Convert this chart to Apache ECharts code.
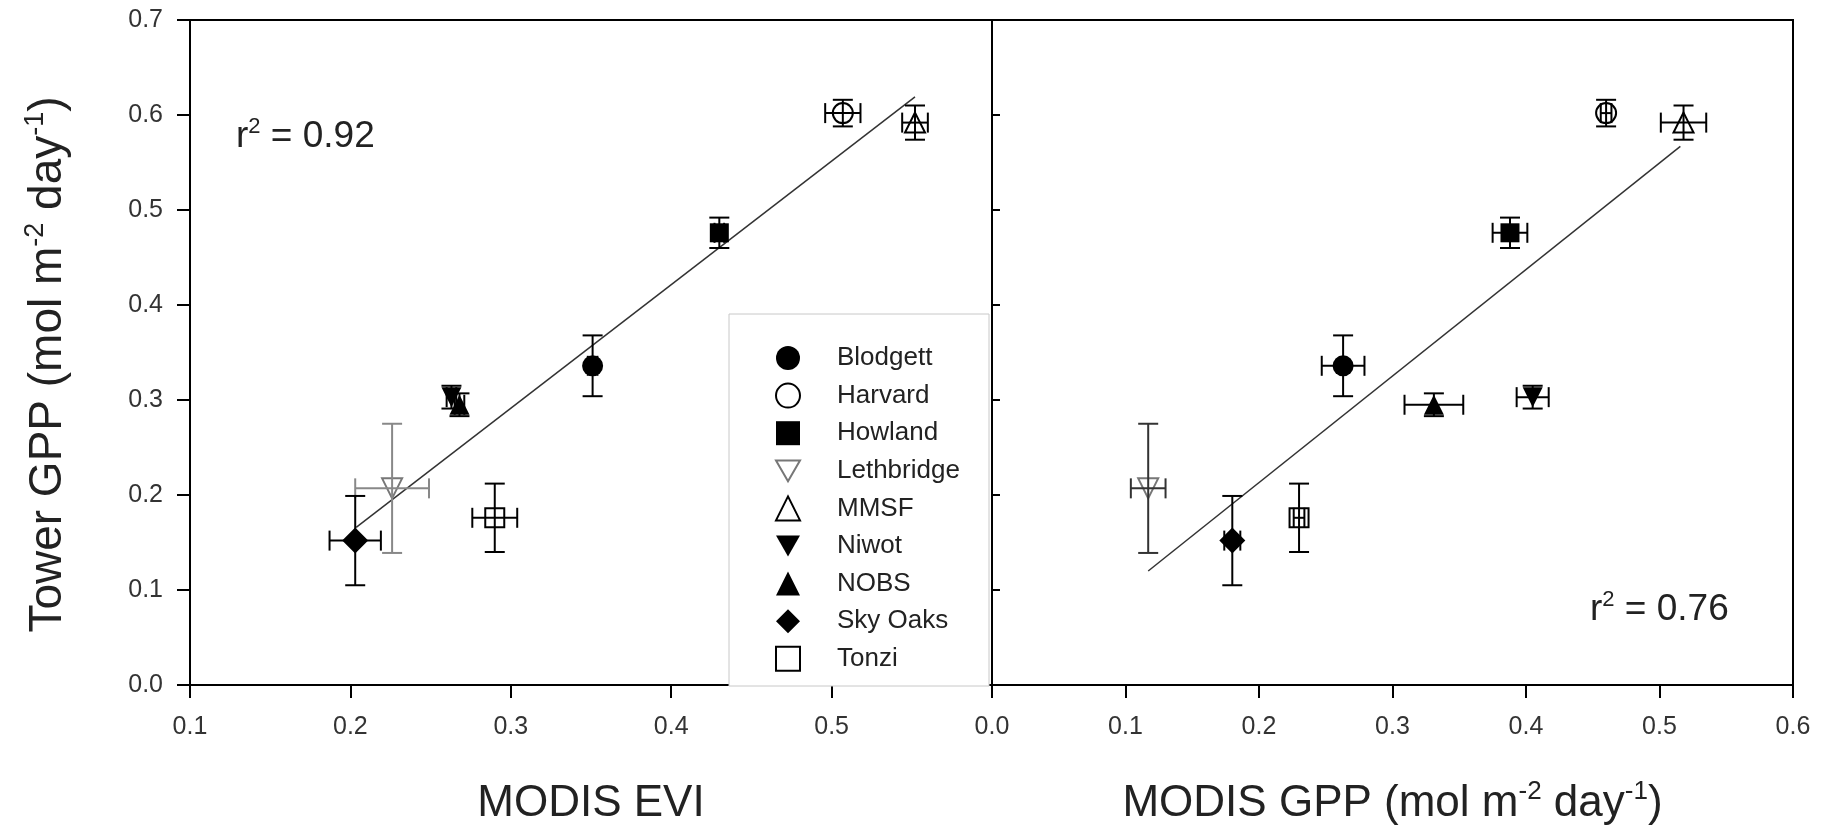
<!DOCTYPE html>
<html>
<head>
<meta charset="utf-8">
<title>Tower GPP vs MODIS EVI / MODIS GPP</title>
<script src="https://cdn.jsdelivr.net/npm/echarts@6.0.0/dist/echarts.min.js"></script>
<style>
  html, body { margin: 0; padding: 0; background: #fff; }
  #chart { width: 1831px; height: 835px; }
</style>
</head>
<body>
<div id="chart"></div>
<script>
// site values
var sites = ['Blodgett', 'Harvard', 'Howland', 'Lethbridge', 'MMSF', 'Niwot', 'NOBS', 'Sky Oaks', 'Tonzi'];
var towerGpp    = [0.336, 0.602, 0.476, 0.207, 0.592, 0.303, 0.295, 0.152, 0.176];
var towerGppErr = [0.032, 0.014, 0.016, 0.068, 0.018, 0.012, 0.012, 0.047, 0.036];
var modisEvi    = [0.351, 0.507, 0.430, 0.226, 0.552, 0.263, 0.268, 0.203, 0.290];
var modisEviErr = [0.003, 0.011, 0.003, 0.023, 0.008, 0.003, 0.003, 0.016, 0.014];
var modisGpp    = [0.263, 0.460, 0.388, 0.117, 0.518, 0.405, 0.331, 0.180, 0.230];
var modisGppErr = [0.016, 0.004, 0.013, 0.013, 0.017, 0.012, 0.022, 0.006, 0.004];

// regression line end points
var eviFit = [[0.2036, 0.166], [0.552, 0.619]];
var gppFit = [[0.117, 0.120], [0.5156, 0.567]];

var yTicks = [0, 0.7, 0.1];   // min, max, step

// marker styles per site
var siteSymbols = ['circle', 'circle', 'rect', 'triangle', 'triangle', 'triangle', 'triangle', 'diamond', 'rect'];
var siteRotate  = [0, 0, 0, 180, 0, 180, 0, 0, 0];
var siteFilled  = [true, false, true, false, false, true, true, true, false];
var siteSize    = [21, 20, 19, 20, 20, 20, 20, 26, 19];
var DOWN_TRI = 'path://M0,0L20,0L10,17.3Z';

var FONT = "'Liberation Sans', Arial, sans-serif";
var INK = '#222';

var chart = echarts.init(document.getElementById('chart'));

function fmt(v) { return v.toFixed(1); }

function errorBarSeries(xs, xe, gridIdx, lethColor) {
  var rows = sites.map(function (s, i) { return [xs[i], towerGpp[i], xe[i], towerGppErr[i]]; });
  return {
    type: 'custom',
    xAxisIndex: gridIdx,
    yAxisIndex: gridIdx,
    z: 4,
    silent: true,
    data: rows,
    encode: { x: 0, y: 1 },
    renderItem: function (params, api) {
      var x = api.value(0), y = api.value(1), dx = api.value(2), dy = api.value(3);
      var top = api.coord([x, y + dy]), bot = api.coord([x, y - dy]);
      var lft = api.coord([x - dx, y]), rgt = api.coord([x + dx, y]);
      var color = sites[params.dataIndex] === 'Lethbridge' ? lethColor : '#000';
      var st = { stroke: color, lineWidth: 2 };
      var cap = 10;
      var segs = [
        [top[0], top[1], bot[0], bot[1]],
        [top[0] - cap, top[1], top[0] + cap, top[1]],
        [bot[0] - cap, bot[1], bot[0] + cap, bot[1]],
        [lft[0], lft[1], rgt[0], rgt[1]],
        [lft[0], lft[1] - cap, lft[0], lft[1] + cap],
        [rgt[0], rgt[1] - cap, rgt[0], rgt[1] + cap]
      ];
      return {
        type: 'group',
        children: segs.map(function (s) {
          return { type: 'line', shape: { x1: s[0], y1: s[1], x2: s[2], y2: s[3] }, style: st };
        })
      };
    }
  };
}

var series = [];
sites.forEach(function (name, i) {
  var col = name === 'Lethbridge' ? '#777' : '#000';
  var style = siteFilled[i]
    ? { color: col, borderColor: col, borderWidth: 0, opacity: 1 }
    : { color: '#fff', borderColor: col, borderWidth: 2, opacity: 1 };
  [[modisEvi, 0], [modisGpp, 1]].forEach(function (p) {
    series.push({
      name: name,
      type: 'scatter',
      xAxisIndex: p[1],
      yAxisIndex: p[1],
      symbol: siteSymbols[i],
      symbolRotate: siteRotate[i],
      symbolSize: siteSize[i],
      itemStyle: style,
      z: 3,
      data: [[p[0][i], towerGpp[i]]]
    });
  });
});

series.push(errorBarSeries(modisEvi, modisEviErr, 0, '#888'));
series.push(errorBarSeries(modisGpp, modisGppErr, 1, '#333'));

[[eviFit, 0], [gppFit, 1]].forEach(function (p) {
  series.push({
    type: 'line',
    xAxisIndex: p[1],
    yAxisIndex: p[1],
    data: p[0],
    symbol: 'none',
    silent: true,
    z: 2,
    lineStyle: { color: '#333', width: 1.5 }
  });
});

var axisLine = { show: true, onZero: false, lineStyle: { color: '#000', width: 2 } };
var tickLabel = { fontSize: 25, color: '#333', fontFamily: FONT };

function nameRich(size) {
  return {
    t: { fontSize: size, fontFamily: FONT, color: INK, lineHeight: size + 6 },
    s: { fontSize: Math.round(size * 0.58), fontFamily: FONT, color: INK, verticalAlign: 'top', lineHeight: size + 6 }
  };
}

function xAxis(idx, min, hideMax, name) {
  return {
    type: 'value', gridIndex: idx, min: min, max: 0.6, interval: 0.1,
    axisLine: axisLine,
    axisTick: { show: true, inside: false, length: 13, lineStyle: { color: '#000', width: 2 } },
    axisLabel: Object.assign({ margin: 30, showMaxLabel: !hideMax, formatter: fmt }, tickLabel),
    splitLine: { show: false },
    name: name, nameLocation: 'middle', nameGap: 94,
    nameTextStyle: { rich: nameRich(44) }
  };
}

function yAxis(idx, showLabels) {
  return {
    type: 'value', gridIndex: idx, min: yTicks[0], max: yTicks[1], interval: yTicks[2],
    axisLine: axisLine,
    axisTick: showLabels
      ? { show: true, inside: false, length: 13, lineStyle: { color: '#000', width: 2 } }
      : { show: true, inside: true, length: 8, lineStyle: { color: '#000', width: 2 } },
    axisLabel: Object.assign({ show: showLabels, margin: 27, formatter: fmt }, tickLabel),
    splitLine: { show: false },
    name: showLabels ? '{t|Tower GPP (mol m}{s|-2}{t| day}{s|-1}{t|)}' : '',
    nameLocation: 'middle', nameRotate: 90, nameGap: 116,
    nameTextStyle: { rich: nameRich(46), padding: [0, 24, 0, 0] }
  };
}

var r2Rich = {
  a: { fontSize: 37, fontFamily: FONT, fontWeight: 'normal', color: INK, lineHeight: 42 },
  b: { fontSize: 22, fontFamily: FONT, fontWeight: 'normal', color: INK, verticalAlign: 'top', lineHeight: 42 }
};

var legendData = sites.map(function (s, i) {
  return siteRotate[i] === 180 ? { name: s, icon: DOWN_TRI } : { name: s };
});

var option = {
  animation: false,
  backgroundColor: '#fff',
  textStyle: { fontFamily: FONT },
  grid: [
    { left: 190, top: 20, width: 802, height: 665, show: true, borderColor: '#000', borderWidth: 2, backgroundColor: 'transparent' },
    { left: 992, top: 20, width: 801, height: 665, show: true, borderColor: '#000', borderWidth: 2, backgroundColor: 'transparent' }
  ],
  xAxis: [
    xAxis(0, 0.1, true, '{t|MODIS EVI}'),
    xAxis(1, 0, false, '{t|MODIS GPP (mol m}{s|-2}{t| day}{s|-1}{t|)}')
  ],
  yAxis: [yAxis(0, true), yAxis(1, false)],
  title: [
    { text: '{a|r}{b|2}{a| = 0.92}', left: 236, top: 116, padding: 0, textStyle: { fontWeight: 'normal', rich: r2Rich } },
    { text: '{a|r}{b|2}{a| = 0.76}', left: 1590, top: 589, padding: 0, textStyle: { fontWeight: 'normal', rich: r2Rich } }
  ],
  graphic: [
    {
      type: 'rect', z: 5, silent: true,
      shape: { x: 729, y: 314, width: 260, height: 372 },
      style: { fill: '#fff', stroke: '#c8c8c8', lineWidth: 1 }
    }
  ],
  legend: {
    z: 6,
    orient: 'vertical',
    left: 775,
    top: 345,
    padding: 0,
    itemWidth: 24,
    itemHeight: 24,
    itemGap: 11.6,
    selectedMode: false,
    data: legendData,
    textStyle: { fontSize: 26, color: INK, fontFamily: FONT, lineHeight: 24, padding: [0, 0, 0, 32] }
  },
  series: series
};

chart.setOption(option);
</script>
</body>
</html>
